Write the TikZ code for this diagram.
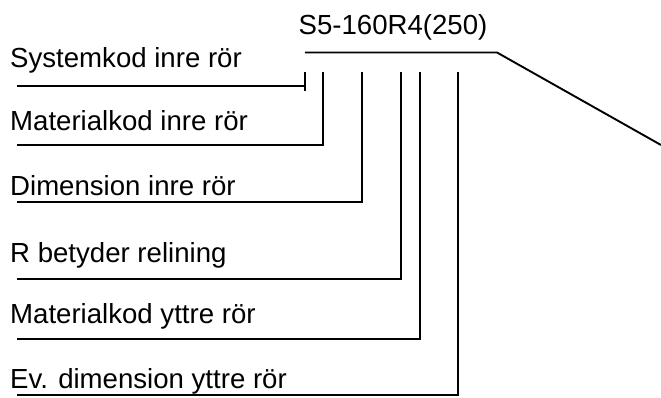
\documentclass[tikz,border=0pt]{standalone}
\usepackage{fontspec}
\setmainfont{Liberation Sans}
\usepackage{tikz}
\usetikzlibrary{calc}

\begin{document}
\begin{tikzpicture}[x=1pt,y=-1pt,
    every node/.style={font=\fontsize{27.6}{32}\selectfont,inner sep=0pt},
    leadbold/.style={line width=1.9pt},
    leadthin/.style={line width=1.4pt}]
  \useasboundingbox (0,0) rectangle (661,397);
  % code string and its bar
  \node[anchor=base] (code) at (393,34) {S5-160R4(250)};
  \coordinate (barL) at (305,52.5);
  \coordinate (barR) at (497,52.5);
  \coordinate (barE) at (661,145);
  \draw[leadbold] (barL) -- (barR) -- (barE);
  % labels
  \node[anchor=base west] (sys)  at (10,67)  {Systemkod inre rör};
  \node[anchor=base west] (mat)  at (10,130) {Materialkod inre rör};
  \node[anchor=base west] (dim)  at (10,195) {Dimension inre rör};
  \node[anchor=base west] (rel)  at (10,262) {R betyder relining};
  \node[anchor=base west] (matY) at (10,323) {Materialkod yttre rör};
  \node[anchor=base west] (dimY) at (10,388) {Ev. dimension yttre rör};
  % leaders: start under each label, end at the top of its riser
  \foreach \n/\y/\x in {sys/86/305,mat/145/323,dim/202/362,rel/279/401,matY/339/420,dimY/395/458}{
    \coordinate (\n L) at (17,\y);
    \coordinate (\n T) at (\x,72);
  }
  \coordinate (sysB) at (305,91);
  \draw[leadbold] (sysL) -- (sysL -| sysT);
  \draw[leadbold] (sysT) -- (sysB);
  \draw[leadbold] (matL) -| (matT);
  \draw[leadthin] (dimL) -| (dimT);
  \draw[leadthin] (relL) -| (relT);
  \draw[leadbold] (matYL) -| (matYT);
  \draw[leadthin] (dimYL) -| (dimYT);
\end{tikzpicture}
\end{document}
